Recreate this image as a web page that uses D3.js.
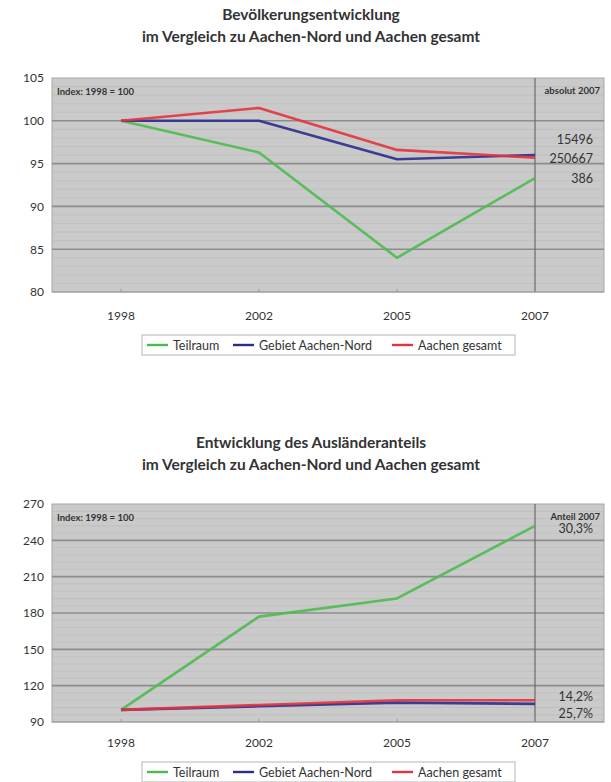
<!DOCTYPE html>
<html>
<head>
<meta charset="utf-8">
<script src="https://cdn.jsdelivr.net/npm/d3@7"></script>
<style>
  body { margin: 0; background: #fff; }
  text { font-family: Lato, "Open Sans", sans-serif; fill: #333; }
</style>
</head>
<body>
<svg id="chart" width="611" height="782"></svg>
<script>
// data
var years = ["1998", "2002", "2005", "2007"];
var seriesNames = ["Teilraum", "Gebiet Aachen-Nord", "Aachen gesamt"];
var seriesColors = ["#4cbb4f", "#2b2d8e", "#e3343f"];

// Bevölkerung, Index 1998 = 100
var popTeilraum = [100, 96.3, 84.0, 93.3];
var popNord = [100, 100, 95.5, 96.0];
var popGesamt = [100, 101.5, 96.6, 95.7];
var popTicks = [80, 85, 90, 95, 100, 105];
var popEndLabels = ["15496", "250667", "386"];
var popEndAt = [97.8, 95.6, 93.3];

// Ausländeranteil, Index 1998 = 100
var ausTeilraum = [100, 177, 192, 252];
var ausNord = [100, 103, 106, 105];
var ausGesamt = [100, 104, 108, 108];
var ausTicks = [90, 120, 150, 180, 210, 240, 270];
var ausEndLabels = ["30,3%", "14,2%", "25,7%"];
var ausEndAt = [249.5, 110.7, 97.4];

var svg = d3.select("#chart");

function drawChart(cfg) {
    var g = svg.append("g");
    var left = 52, right = 604;
    var top = cfg.top, bottom = cfg.bottom;

    // titles
    g.selectAll("text.title")
        .data(cfg.title)
        .enter()
        .append("text")
        .attr("class", "title")
        .attr("x", 311)
        .attr("y", function (d, i) { return cfg.titleY + i * 22; })
        .attr("text-anchor", "middle")
        .attr("font-size", 15.5)
        .attr("font-weight", "bold")
        .attr("fill", "#222")
        .text(function (d) { return d; });

    var x = d3.scaleBand().domain(years).range([left, right]);
    var y = d3.scaleLinear().domain(d3.extent(cfg.ticks)).range([bottom, top]);
    var step = cfg.ticks[1] - cfg.ticks[0];

    g.append("rect")
        .attr("x", left).attr("y", top)
        .attr("width", right - left).attr("height", bottom - top)
        .attr("fill", "#cacaca")
        .attr("stroke", "#a8a8a8");

    // minor grid
    var minor = d3.range(cfg.ticks[0], cfg.ticks[cfg.ticks.length - 1], step / 5)
        .filter(function (v) { return (v - cfg.ticks[0]) % step !== 0; });
    g.selectAll("line.minor")
        .data(minor)
        .enter()
        .append("line")
        .attr("x1", left).attr("x2", right)
        .attr("y1", function (d) { return y(d); })
        .attr("y2", function (d) { return y(d); })
        .attr("stroke", "#bebebe")
        .attr("stroke-width", 0.8);

    // major grid
    g.selectAll("line.major")
        .data(cfg.ticks.slice(1, -1))
        .enter()
        .append("line")
        .attr("x1", left).attr("x2", right)
        .attr("y1", function (d) { return y(d); })
        .attr("y2", function (d) { return y(d); })
        .attr("stroke", "#8c8c8c")
        .attr("stroke-width", 1.6);

    g.append("line")
        .attr("x1", left).attr("x2", right)
        .attr("y1", bottom).attr("y2", bottom)
        .attr("stroke", "#999");

    // divider at last category
    var xc = function (d) { return x(d) + x.bandwidth() / 2; };
    g.append("line")
        .attr("x1", xc("2007")).attr("x2", xc("2007"))
        .attr("y1", top).attr("y2", bottom)
        .attr("stroke", "#6a6a6a")
        .attr("stroke-width", 1.2);

    // y axis labels
    var ya = g.append("g")
        .attr("transform", "translate(" + (left - 8) + ",0)")
        .call(d3.axisLeft(y).tickValues(cfg.ticks).tickSize(0).tickPadding(0));
    ya.select(".domain").remove();
    ya.selectAll("text")
        .attr("font-size", 12)
        .attr("fill", "#444")
        .style("font-family", "Lato, sans-serif");

    // x axis labels
    var xa = g.append("g")
        .attr("transform", "translate(0," + bottom + ")")
        .call(d3.axisBottom(x).tickSize(3).tickPadding(cfg.xPad));
    xa.select(".domain").remove();
    xa.selectAll("line").attr("stroke", "#999").attr("transform", "translate(0,-3)");
    xa.selectAll("text")
        .attr("font-size", 12)
        .attr("fill", "#444")
        .style("font-family", "Lato, sans-serif");

    // series lines
    var line = d3.line()
        .x(function (d, i) { return xc(years[i]); })
        .y(function (d) { return y(d); });

    g.selectAll("path.series")
        .data(cfg.series)
        .enter()
        .append("path")
        .attr("class", "series")
        .attr("d", function (d) { return line(d); })
        .attr("fill", "none")
        .attr("stroke", function (d, i) { return seriesColors[i]; })
        .attr("stroke-width", 2.6)
        .attr("stroke-linejoin", "round")
        .attr("opacity", 0.9);

    // corner notes
    g.append("text")
        .attr("x", left + 5).attr("y", top + 17)
        .attr("font-size", 9.5).attr("font-weight", "bold")
        .attr("fill", "#222")
        .text(cfg.note);
    g.append("text")
        .attr("x", right - 4).attr("y", top + 16)
        .attr("text-anchor", "end")
        .attr("font-size", 9.5).attr("font-weight", "bold")
        .attr("fill", "#222")
        .text(cfg.noteRight);

    g.selectAll("text.endlabel")
        .data(cfg.endLabels)
        .enter()
        .append("text")
        .attr("class", "endlabel")
        .attr("x", right - 11)
        .attr("y", function (d, i) { return y(cfg.endAt[i]) + 4.5; })
        .attr("text-anchor", "end")
        .attr("font-size", 12.5)
        .attr("fill", "#333")
        .text(function (d) { return d; });

    // legend
    var lg = g.append("g").attr("transform", "translate(142," + cfg.legendY + ")");
    lg.append("rect")
        .attr("width", 373).attr("height", 20)
        .attr("fill", "#fff")
        .attr("stroke", "#b5b5b5");
    var offsets = [5, 91, 250];
    var item = lg.selectAll("g.item")
        .data(seriesNames)
        .enter()
        .append("g")
        .attr("transform", function (d, i) { return "translate(" + offsets[i] + ",10)"; });
    item.append("line")
        .attr("x1", 0).attr("x2", 21)
        .attr("stroke", function (d, i) { return seriesColors[i]; })
        .attr("stroke-width", 2.4);
    item.append("text")
        .attr("x", 26).attr("y", 4.5)
        .attr("font-size", 12.5)
        .attr("fill", "#444")
        .text(function (d) { return d; });
}

drawChart({
    title: ["Bevölkerungsentwicklung", "im Vergleich zu Aachen-Nord und Aachen gesamt"],
    titleY: 20,
    top: 78, bottom: 292,
    ticks: popTicks,
    series: [popTeilraum, popNord, popGesamt],
    note: "Index: 1998 = 100",
    noteRight: "absolut 2007",
    endLabels: popEndLabels,
    endAt: popEndAt,
    xPad: 16,
    legendY: 335
});

drawChart({
    title: ["Entwicklung des Ausländeranteils", "im Vergleich zu Aachen-Nord und Aachen gesamt"],
    titleY: 448,
    top: 504, bottom: 722,
    ticks: ausTicks,
    series: [ausTeilraum, ausNord, ausGesamt],
    note: "Index: 1998 = 100",
    noteRight: "Anteil 2007",
    endLabels: ausEndLabels,
    endAt: ausEndAt,
    xPad: 13,
    legendY: 762
});
</script>
</body>
</html>
